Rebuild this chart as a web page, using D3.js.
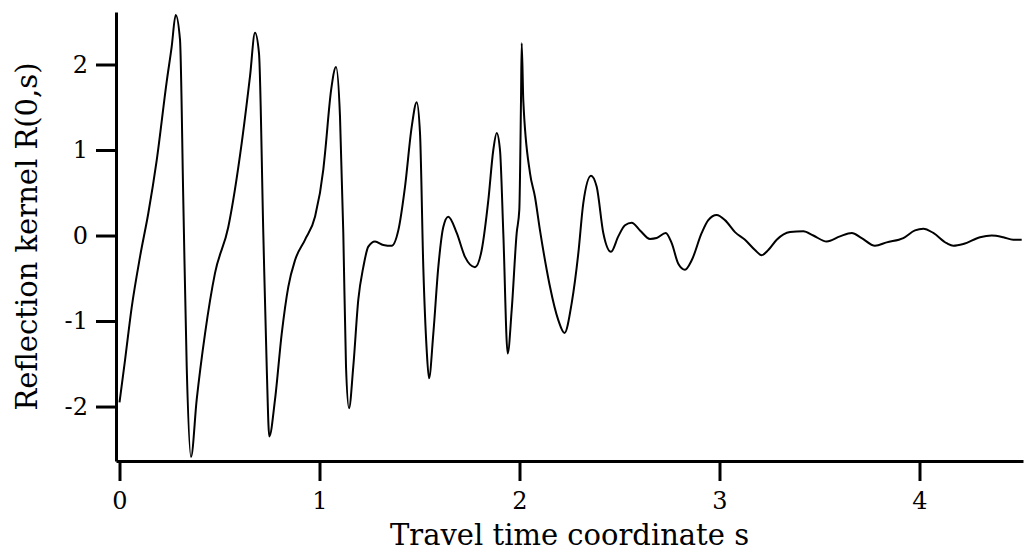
<!DOCTYPE html>
<html>
<head>
<meta charset="utf-8">
<script src="https://cdn.jsdelivr.net/npm/d3@7"></script>
<style>
  html, body { margin: 0; padding: 0; background: #fff; }
  svg { display: block; }
</style>
</head>
<body>
<div id="chart"></div>
<script>
// travel time coordinate s
const time = [
  0.0, 0.0275, 0.061, 0.1025, 0.144, 0.186, 0.236, 0.261, 0.281, 0.3025,
  0.319, 0.336, 0.3575, 0.386, 0.4275, 0.4775, 0.544, 0.611, 0.6525, 0.6775,
  0.6975, 0.719, 0.736, 0.749, 0.7775, 0.811, 0.844, 0.8775, 0.9275, 0.9775,
  1.019, 1.0275, 1.058, 1.0825, 1.1025, 1.119, 1.1325, 1.1475, 1.169, 1.194,
  1.219, 1.244, 1.2775, 1.319, 1.361, 1.394, 1.4275, 1.461, 1.486, 1.5025,
  1.519, 1.536, 1.5475, 1.569, 1.594, 1.619, 1.644, 1.686, 1.7275, 1.7775,
  1.811, 1.844, 1.869, 1.886, 1.9025, 1.919, 1.941, 1.961, 1.986, 1.999,
  2.0075, 2.011, 2.019, 2.0525, 2.0775, 2.1025, 2.136, 2.1525, 2.194, 2.225,
  2.261, 2.294, 2.319, 2.3575, 2.386, 2.419, 2.4575, 2.494, 2.5275, 2.561,
  2.6025, 2.6525, 2.686, 2.731, 2.761, 2.794, 2.8275, 2.861, 2.911, 2.944,
  2.986, 3.0275, 3.0775, 3.1275, 3.1775, 3.211, 3.244, 3.286, 3.3525, 3.419,
  3.469, 3.536, 3.6025, 3.661, 3.711, 3.7775, 3.836, 3.919, 3.9775, 4.019,
  4.069, 4.136, 4.169, 4.219, 4.3025, 4.361, 4.419, 4.469, 4.511
];

// reflection kernel R(0,s)
const kernel = [
  -1.95, -1.46, -0.84, -0.25, 0.26, 0.88, 1.80, 2.21, 2.58, 2.29,
  0.41, -1.53, -2.59, -1.92, -1.15, -0.44, 0.10, 1.08, 1.86, 2.37,
  2.13, 0.03, -1.53, -2.35, -1.92, -1.15, -0.60, -0.29, -0.05, 0.22,
  0.77, 0.96, 1.70, 1.97, 1.39, 0.03, -1.53, -2.02, -1.53, -0.75,
  -0.37, -0.13, -0.07, -0.11, -0.12, 0.06, 0.57, 1.27, 1.56, 1.20,
  -0.37, -1.34, -1.67, -1.15, -0.37, 0.10, 0.22, 0.03, -0.25, -0.37,
  -0.17, 0.41, 1.00, 1.20, 1.00, 0.03, -1.38, -0.87, 0.03, 0.30,
  1.58, 2.25, 1.58, 0.73, 0.45, 0.06, -0.40, -0.60, -0.99, -1.14,
  -0.79, -0.21, 0.38, 0.70, 0.57, 0.03, -0.19, -0.01, 0.12, 0.15,
  0.06, -0.04, -0.03, 0.03, -0.09, -0.33, -0.40, -0.29, 0.03, 0.18,
  0.24, 0.18, 0.04, -0.05, -0.17, -0.23, -0.17, -0.05, 0.04, 0.05,
  0.0, -0.07, -0.01, 0.03, -0.03, -0.12, -0.08, -0.03, 0.06, 0.08,
  0.03, -0.09, -0.12, -0.10, -0.02, 0.0, -0.02, -0.05, -0.05
];

const xTicks = [0, 1, 2, 3, 4];
const yTicks = [-2, -1, 0, 1, 2];

const xLabel = "Travel time coordinate s";
const yLabel = "Reflection kernel R(0,s)";

const W = 1029, H = 555;
const margin = {top: 12, right: 6, bottom: 94, left: 116};
const serif = "'DejaVu Serif', 'Liberation Serif', serif";

const svg = d3.select("#chart").append("svg")
    .attr("width", W)
    .attr("height", H);

const x = d3.scaleLinear()
    .domain([-0.0175, 4.5175])
    .range([margin.left, W - margin.right]);

const y = d3.scaleLinear()
    .domain([-2.637, 2.614])
    .range([H - margin.bottom, margin.top]);

const xAxis = d3.axisBottom(x)
    .tickValues(xTicks)
    .tickFormat(d3.format("d"))
    .tickSize(20)
    .tickSizeOuter(0)
    .tickPadding(11);

const yAxis = d3.axisLeft(y)
    .tickValues(yTicks)
    .tickFormat(d3.format("d"))
    .tickSize(20)
    .tickSizeOuter(0)
    .tickPadding(8);

const gx = svg.append("g")
    .attr("class", "x_axis")
    .attr("transform", "translate(0," + (H - margin.bottom) + ")")
    .call(xAxis);

const gy = svg.append("g")
    .attr("class", "y_axis")
    .attr("transform", "translate(" + margin.left + ",0)")
    .call(yAxis);

svg.selectAll(".x_axis path, .y_axis path")
    .style("stroke", "#000")
    .style("stroke-width", "3px");
svg.selectAll(".x_axis line, .y_axis line")
    .style("stroke", "#000")
    .style("stroke-width", "3px");
svg.selectAll(".x_axis text, .y_axis text")
    .style("font-family", serif)
    .style("font-size", "24px")
    .style("fill", "#000");
// plain hyphen for the minus, like the original
gy.selectAll("text").text(d => String(d));

const line = d3.line()
    .x((d, i) => x(time[i]))
    .y(d => y(d))
    .curve(d3.curveMonotoneX);

svg.append("path")
    .datum(kernel)
    .attr("d", line)
    .style("fill", "none")
    .style("stroke", "#000")
    .style("stroke-width", "2px")
    .style("stroke-linejoin", "round");

svg.append("text")
    .attr("x", (x.range()[0] + x.range()[1]) / 2)
    .attr("y", 545)
    .attr("text-anchor", "middle")
    .style("font-family", serif)
    .style("font-size", "29px")
    .text(xLabel);

svg.append("text")
    .attr("transform", "translate(37," + (y.range()[0] + y.range()[1]) / 2 + ") rotate(-90)")
    .attr("text-anchor", "middle")
    .style("font-family", serif)
    .style("font-size", "29px")
    .text(yLabel);
</script>
</body>
</html>
